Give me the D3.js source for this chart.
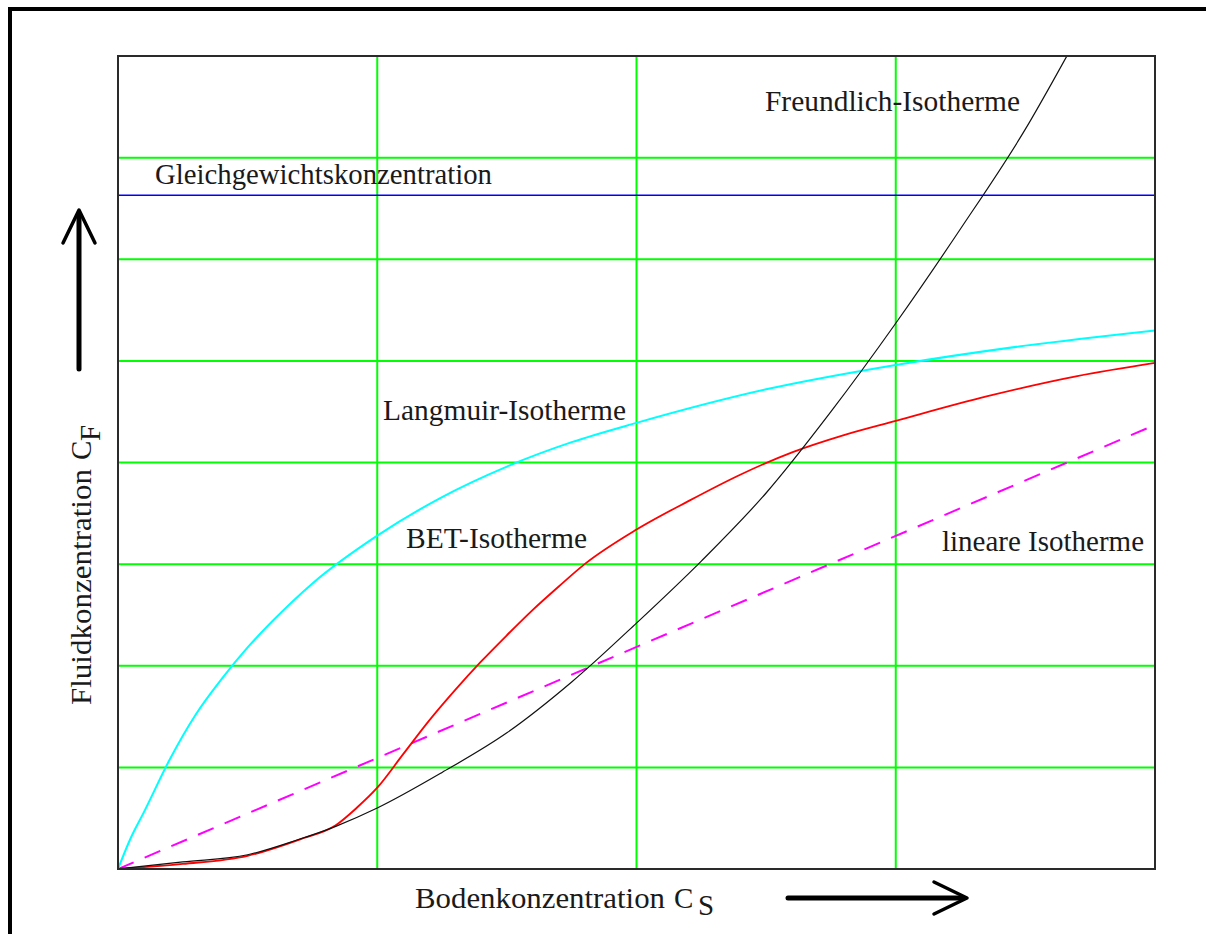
<!DOCTYPE html>
<html>
<head>
<meta charset="utf-8">
<script src="https://cdn.jsdelivr.net/npm/d3@7"></script>
<style>
  html, body { margin: 0; padding: 0; background: #fff; }
  svg { display: block; }
  .label { font-family: "Liberation Serif", "Times New Roman", serif; font-size: 29px; fill: #1a1a1a; }
</style>
</head>
<body>
<div id="chart"></div>
<script>
// Grid positions (no tick labels in the original)
const xGrid = [1, 2, 3];
const yGrid = [1, 2, 3, 4, 5, 6, 7];

// Gleichgewichtskonzentration (horizontal line)
const equilibriumLevel = 6.63;

// Langmuir-Isotherme (cyan)
const langmuirX = [0, 0.05, 0.1, 0.2, 0.3, 0.4, 0.5, 0.6, 0.75, 1.0, 1.25, 1.5, 1.75, 2.0, 2.5, 3.0, 3.5, 4.0];
const langmuirY = [0, 0.31, 0.56, 1.08, 1.52, 1.87, 2.18, 2.45, 2.81, 3.28, 3.66, 3.96, 4.2, 4.39, 4.72, 4.96, 5.15, 5.3];

// BET-Isotherme (red)
const betX = [0, 0.25, 0.5, 0.7, 0.84, 0.92, 1.0, 1.1, 1.2, 1.3, 1.4, 1.5, 1.6, 1.7, 1.8, 2.0, 2.2, 2.4, 2.6, 2.8, 3.0, 3.35, 3.7, 4.0];
const betY = [0, 0.05, 0.13, 0.29, 0.43, 0.6, 0.8, 1.13, 1.46, 1.76, 2.04, 2.3, 2.55, 2.78, 3.0, 3.34, 3.62, 3.88, 4.1, 4.27, 4.41, 4.65, 4.85, 4.98];

// Freundlich-Isotherme (black)
const freundlichX = [0, 0.25, 0.5, 0.69, 0.84, 1.0, 1.25, 1.5, 1.75, 2.0, 2.25, 2.5, 2.75, 3.0, 3.25, 3.5, 3.66];
const freundlichY = [0, 0.07, 0.14, 0.285, 0.42, 0.6, 0.95, 1.34, 1.84, 2.42, 3.03, 3.7, 4.5, 5.37, 6.3, 7.28, 8.0];

// lineare Isotherme (magenta dashed)
const linearX = [0, 4];
const linearY = [0, 4.37];

const width = 1206, height = 934;
const plot = { left: 118, top: 56, right: 1155, bottom: 869 };

const svg = d3.select("#chart")
  .append("svg")
  .attr("width", width)
  .attr("height", height);

const x = d3.scaleLinear().domain([0, 4]).range([plot.left, plot.right]);
const y = d3.scaleLinear().domain([0, 8]).range([plot.bottom, plot.top]);

// Outer frame (only top and left edges are visible)
svg.append("path")
  .attr("d", `M10,${height} L10,9 L${width},9`)
  .attr("fill", "none")
  .attr("stroke", "#000")
  .attr("stroke-width", 4);

// Grid
const grid = svg.append("g").attr("stroke", "#00ff00").attr("stroke-width", 2);
grid.selectAll("line.v")
  .data(xGrid)
  .join("line")
  .attr("class", "v")
  .attr("x1", d => x(d)).attr("x2", d => x(d))
  .attr("y1", y(0)).attr("y2", y(8));
grid.selectAll("line.h")
  .data(yGrid)
  .join("line")
  .attr("class", "h")
  .attr("x1", x(0)).attr("x2", x(4))
  .attr("y1", d => y(d)).attr("y2", d => y(d));

// Equilibrium line
svg.append("line")
  .attr("x1", x(0)).attr("x2", x(4))
  .attr("y1", y(equilibriumLevel)).attr("y2", y(equilibriumLevel))
  .attr("stroke", "#0000ff")
  .attr("stroke-width", 1.6);

svg.append("clipPath").attr("id", "plot-clip")
  .append("rect")
  .attr("x", plot.left).attr("y", plot.top)
  .attr("width", plot.right - plot.left)
  .attr("height", plot.bottom - plot.top);

const line = d3.line()
  .x(d => x(d[0]))
  .y(d => y(d[1]))
  .curve(d3.curveMonotoneX);

const series = [
  { xs: linearX, ys: linearY, color: "#ff00ff", width: 2, dash: "17,12" },
  { xs: langmuirX, ys: langmuirY, color: "#00ffff", width: 2, dash: null },
  { xs: betX, ys: betY, color: "#ff0000", width: 1.8, dash: null },
  { xs: freundlichX, ys: freundlichY, color: "#111111", width: 1.2, dash: null }
];

const curves = svg.append("g").attr("clip-path", "url(#plot-clip)");
curves.selectAll("path")
  .data(series)
  .join("path")
  .attr("d", s => line(s.xs.map((v, i) => [v, s.ys[i]])))
  .attr("fill", "none")
  .attr("stroke", s => s.color)
  .attr("stroke-width", s => s.width)
  .attr("stroke-dasharray", s => s.dash);

// Plot frame
svg.append("rect")
  .attr("x", plot.left).attr("y", plot.top)
  .attr("width", plot.right - plot.left)
  .attr("height", plot.bottom - plot.top)
  .attr("fill", "none")
  .attr("stroke", "#2a2a2a")
  .attr("stroke-width", 2);

// Curve labels
const labels = [
  { text: "Freundlich-Isotherme", x: 765, y: 111, len: 255 },
  { text: "Gleichgewichtskonzentration", x: 155, y: 184, len: 337 },
  { text: "Langmuir-Isotherme", x: 383, y: 420, len: 243 },
  { text: "BET-Isotherme", x: 406, y: 548, len: 181 },
  { text: "lineare Isotherme", x: 942, y: 551, len: 202 }
];

svg.selectAll("text.curve-label")
  .data(labels)
  .join("text")
  .attr("class", "label curve-label")
  .attr("x", d => d.x)
  .attr("y", d => d.y)
  .attr("textLength", d => d.len)
  .attr("lengthAdjust", "spacingAndGlyphs")
  .text(d => d.text);

// x axis title
svg.append("text")
  .attr("class", "label")
  .attr("x", 415).attr("y", 908)
  .attr("textLength", 250)
  .attr("lengthAdjust", "spacingAndGlyphs")
  .text("Bodenkonzentration");
svg.append("text")
  .attr("class", "label")
  .attr("x", 674).attr("y", 908)
  .text("C");
svg.append("text")
  .attr("class", "label")
  .attr("x", 698).attr("y", 915)
  .text("S");

// y axis title
const yTitle = svg.append("g")
  .attr("transform", "translate(91,705) rotate(-90)");
yTitle.append("text")
  .attr("class", "label")
  .attr("x", 0).attr("y", 0)
  .attr("textLength", 236)
  .attr("lengthAdjust", "spacingAndGlyphs")
  .text("Fluidkonzentration");
yTitle.append("text")
  .attr("class", "label")
  .attr("x", 245).attr("y", 0)
  .text("C");
yTitle.append("text")
  .attr("class", "label")
  .attr("x", 264).attr("y", 9)
  .text("F");

// Direction arrows
const arrows = svg.append("g")
  .attr("fill", "none")
  .attr("stroke", "#000")
  .attr("stroke-linecap", "round")
  .attr("stroke-linejoin", "round");
arrows.append("line")
  .attr("x1", 79).attr("y1", 369).attr("x2", 79).attr("y2", 214)
  .attr("stroke-width", 5);
arrows.append("path")
  .attr("d", "M63,243 L79,210 L95,243")
  .attr("stroke-width", 3.5);
arrows.append("line")
  .attr("x1", 788).attr("y1", 898).attr("x2", 963).attr("y2", 898)
  .attr("stroke-width", 5);
arrows.append("path")
  .attr("d", "M934,882 L967,898 L934,914")
  .attr("stroke-width", 3.5);
</script>
</body>
</html>
